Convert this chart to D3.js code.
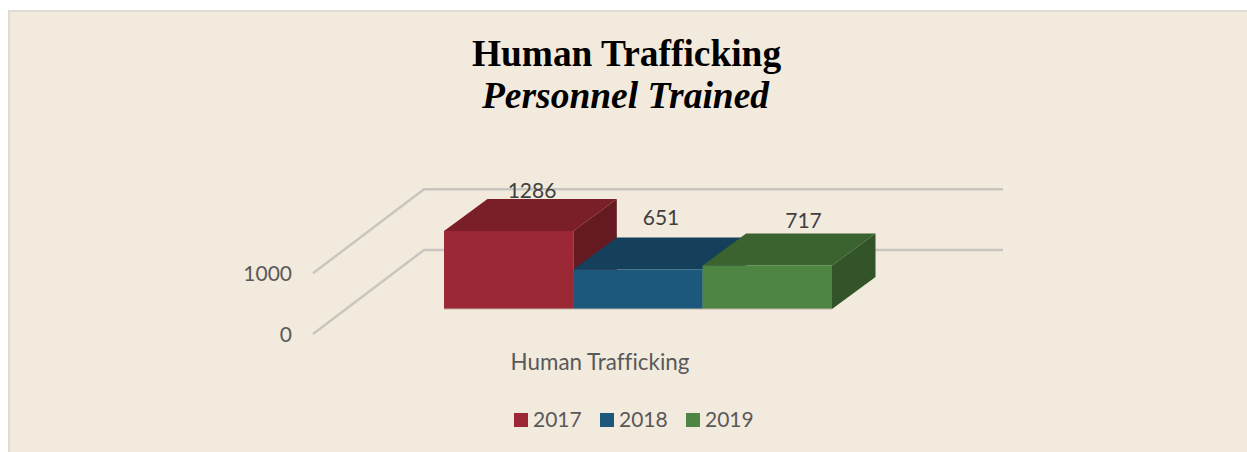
<!DOCTYPE html>
<html><head><meta charset="utf-8">
<script src="https://cdn.jsdelivr.net/npm/d3@7/dist/d3.min.js"></script>
<style>html,body{margin:0;padding:0;background:#fff}svg{display:block}text{font-variant-ligatures:none}</style>
</head><body><svg id="c" width="1247" height="452"></svg>
<script>
const categories = ["Human Trafficking"];
const years = ["2017","2018","2019"];
const values = [1286,651,717];
const axisTicks = [0,1000];
const frontColors = ["#9c2735","#1b587c","#4e8542"];
const topColors = ["#7a1e28","#15405c","#3a632f"];
const sideColors = ["#641a20","#113449","#325428"];

const svg = d3.select("#c");
svg.append("rect").attr("x",9).attr("y",11).attr("width",1240).attr("height",443)
  .attr("fill","#f2eadd").attr("stroke","#dfdcd6").attr("stroke-width",2);

const y = d3.scaleLinear().domain([0,1000]).range([0,60.7]);
const x = d3.scaleBand().domain(years).range([444,832]);
const floorX0 = 313, floorY0 = 334, wallDX = 111, wallDY = -84, wallEnd = 1003;
const depthDX = 43.5, depthDY = -32;
const barBase = 309;

const grid = svg.append("g");
axisTicks.forEach(t=>{
  const yy = floorY0 - y(t);
  grid.append("polyline")
    .attr("points",[[floorX0,yy],[floorX0+wallDX,yy+wallDY],[wallEnd,yy+wallDY]].join(" "))
    .attr("fill","none").attr("stroke","#c9c5bf").attr("stroke-width",2.5);
  svg.append("text").attr("x",292).attr("y",yy+7.5).attr("text-anchor","end")
    .attr("font-family","Lato, sans-serif").attr("font-size",21).attr("fill","#595959").text(t);
});

const bars = svg.append("g");
const line = d3.line();
years.forEach((yr,i)=>{
  const x0 = x(yr), x1 = x0 + x.bandwidth(), h = y(values[i]), b = barBase, t = b - h;
  const g = bars.append("g");
  g.append("path").attr("d",line([[x1,t],[x1+depthDX,t+depthDY],[x1+depthDX,b+depthDY],[x1,b]])+"Z").attr("fill",sideColors[i]);
  g.append("path").attr("d",line([[x0,t],[x0+depthDX,t+depthDY],[x1+depthDX,t+depthDY],[x1,t]])+"Z").attr("fill",topColors[i]);
  g.append("rect").attr("x",x0).attr("y",t).attr("width",x.bandwidth()).attr("height",h).attr("fill",frontColors[i]);
});
bars.append("path").attr("d",line([[x(years[0]),barBase],[x(years[2])+x.bandwidth(),barBase]])).attr("stroke","#b9b3a8").attr("stroke-width",1).attr("fill","none");

const labelPos = [[532,198],[661,225],[803.5,228]];
values.forEach((v,i)=>{
  svg.append("text").attr("x",labelPos[i][0]).attr("y",labelPos[i][1]).attr("text-anchor","middle")
    .attr("font-family","Lato, sans-serif").attr("font-size",21).attr("fill","#404040").text(v);
});

svg.append("text").attr("x",600).attr("y",370).attr("text-anchor","middle")
  .attr("font-family","Lato, sans-serif").attr("font-size",22.4).attr("fill","#595959").text(categories[0]);

const legendX = [514,600,686];
years.forEach((yr,i)=>{
  svg.append("rect").attr("x",legendX[i]).attr("y",413).attr("width",14).attr("height",14).attr("fill",frontColors[i]);
  svg.append("text").attr("x",legendX[i]+19).attr("y",427).attr("font-family","Lato, sans-serif").attr("font-size",21).attr("fill","#595959").text(yr);
});

svg.append("text").attr("x",626.5).attr("y",66).attr("text-anchor","middle")
  .attr("font-family","'Liberation Serif', serif").attr("font-weight","bold").attr("font-size",37.4).attr("fill","#000").text("Human Trafficking");
svg.append("text").attr("x",625.5).attr("y",108).attr("text-anchor","middle")
  .attr("font-family","'Liberation Serif', serif").attr("font-weight","bold").attr("font-style","italic").attr("font-size",37.5).attr("fill","#000").text("Personnel Trained");
</script></body></html>
